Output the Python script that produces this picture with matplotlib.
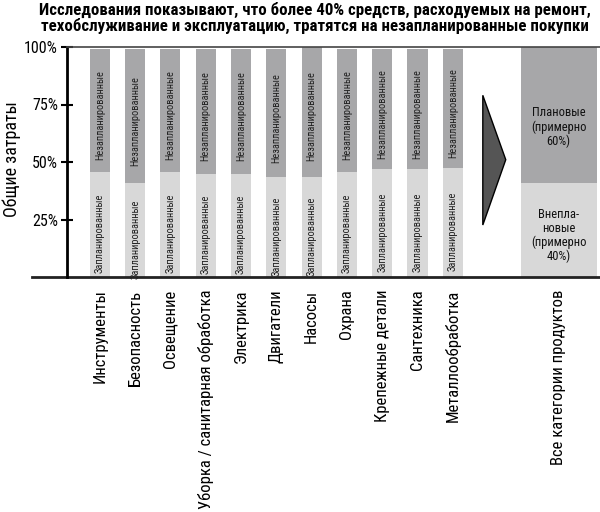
import matplotlib
matplotlib.use('Agg')
import matplotlib.pyplot as plt
import numpy as np
from matplotlib.patches import Polygon

# данные: доля запланированных / незапланированных закупок по категориям
categories = ['Инструменты', 'Безопасность', 'Освещение', 'Уборка / санитарная обработка',
              'Электрика', 'Двигатели', 'Насосы', 'Охрана', 'Крепежные детали',
              'Сантехника', 'Металлообработка']
planned = [0.457, 0.41, 0.457, 0.45, 0.448, 0.436, 0.436, 0.457, 0.47, 0.47, 0.474]
total = [0.99, 0.99, 0.99, 0.99, 0.99, 0.99, 1.0, 0.99, 0.99, 0.99, 0.99]
unplanned = [t - p for t, p in zip(total, planned)]

all_label = 'Все категории продуктов'
all_lower = 0.41
all_upper = 0.59

yticks = [0.25, 0.5, 0.75, 1.0]
yticklabels = ['25%', '50%', '75%', '100%']

dark = '#a7a7a9'
light = '#d8d8d8'
plt.rcParams['font.family'] = ['Roboto Condensed', 'Fira Sans Condensed', 'PT Sans Narrow',
                               'Sofia Sans Condensed', 'DejaVu Sans']

fig = plt.figure(figsize=(6, 5.12), dpi=100)
ax = fig.add_axes([67 / 600, 235 / 512, 533 / 600, 230 / 512])

x = np.arange(len(categories))
ax.bar(x, planned, width=0.57, color=light, linewidth=0)
ax.bar(x, unplanned, bottom=planned, width=0.57, color=dark, linewidth=0)

# подписи внутри столбцов
for xi, p, u in zip(x, planned, unplanned):
    ax.text(xi, p + u / 2 - 0.02, 'Незапланированные', rotation=90, ha='center', va='center',
            fontsize=7.5, color='#222222')
    ax.text(xi, p / 2 - 0.04, 'Запланированные', rotation=90, ha='center', va='center',
            fontsize=7.5, color='#222222')

# итоговый столбец
x_all = 13
ax.bar(x_all, all_lower, width=2.15, color=light, linewidth=0)
ax.bar(x_all, all_upper, bottom=all_lower, width=2.15, color=dark, linewidth=0)
ax.text(x_all, all_lower + all_upper * 0.41, 'Плановые\n(примерно\n60%)', ha='center', va='center',
        fontsize=9, linespacing=1.1, color='#111111')
ax.text(x_all, all_lower * 0.44, 'Внепла-\nновые\n(примерно\n40%)', ha='center', va='center',
        fontsize=9, linespacing=1.1, color='#111111')

# стрелка
ax.add_patch(Polygon([(10.85, 0.79), (11.5, 0.51), (10.85, 0.226)], closed=True,
                     facecolor='#555555', edgecolor='black', linewidth=1))

ax.set_xlim(-0.93, 14.17)
ax.set_ylim(0, 1.0)
ax.set_xticks(list(x) + [x_all])
ax.set_xticklabels(categories + [all_label], rotation=90, ha='center', va='top', fontsize=12)
ax.set_yticks(yticks)
ax.set_yticklabels(yticklabels, fontsize=11.5)
ax.tick_params(axis='x', length=0, pad=9)
ax.tick_params(axis='y', direction='inout', length=9, width=1.5, pad=2)

ax.spines['right'].set_visible(False)
ax.spines['left'].set_linewidth(2)
ax.spines['top'].set_linewidth(1.2)
ax.spines['top'].set_color('#444444')
ax.spines['bottom'].set_visible(False)
# нижняя линия выходит левее оси
ax.plot([-0.065, 1], [0, 0], transform=ax.transAxes, color='#222222', linewidth=2, clip_on=False)

fig.text(0.019, 0.69, 'Общие затраты', rotation=90, ha='center', va='center', fontsize=13)
fig.text(0.525, 0.997, 'Исследования показывают, что более 40% средств, расходуемых на ремонт,\n'
         'техобслуживание и эксплуатацию, тратятся на незапланированные покупки',
         ha='center', va='top', fontsize=12.2, fontweight='bold', linespacing=1.05)

plt.savefig('out.png', dpi=100)
